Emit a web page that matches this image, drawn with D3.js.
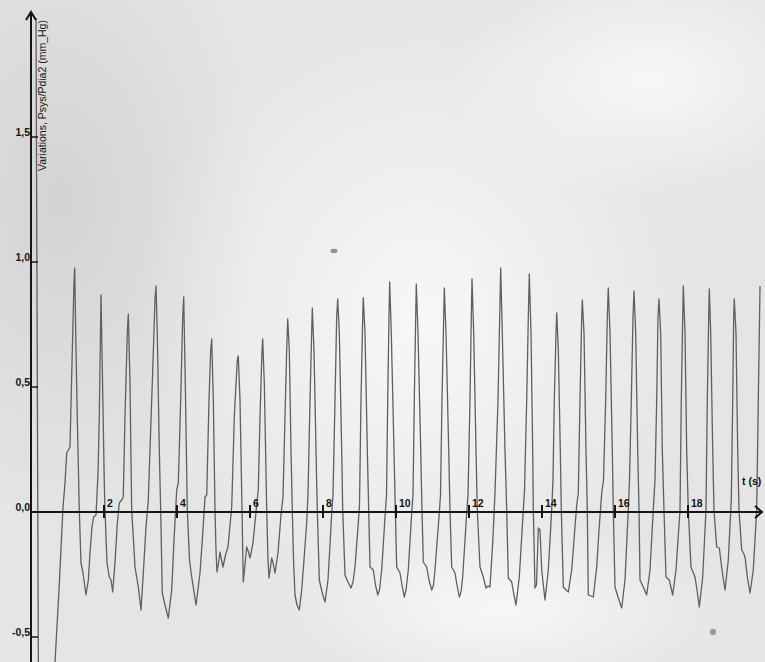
<!DOCTYPE html>
<html><head><meta charset="utf-8">
<script src="https://cdn.jsdelivr.net/npm/d3@7"></script>
<style>html,body{margin:0;padding:0;background:#e6e6e6;}svg{display:block;}</style>
</head><body>
<svg id="c" width="765" height="662"></svg>
<script>
// time (s)
const times = [0.137,0.205,0.438,0.658,0.767,0.877,0.932,0.978,1.068,1.132,1.178,1.197,1.233,1.268,1.323,1.370,1.425,1.507,1.571,1.616,1.671,1.717,1.781,
1.836,1.871,1.910,1.918,1.953,2.008,2.027,2.082,2.145,2.192,2.238,2.301,2.365,2.419,2.484,2.528,
2.575,2.638,2.666,2.712,2.759,2.849,2.940,3.014,3.077,3.151,3.214,
3.260,3.323,3.397,3.425,3.460,3.515,3.553,3.597,3.671,3.762,3.855,3.918,3.992,4.036,
4.101,4.156,4.184,4.227,4.282,4.342,4.403,4.521,4.630,4.712,4.767,4.814,
4.877,4.923,4.951,4.995,5.041,5.068,5.096,5.151,5.178,5.219,5.260,5.329,5.397,5.499,
5.570,5.652,5.679,5.726,5.781,5.816,5.910,5.959,6.000,6.082,6.178,
6.227,6.274,6.329,6.348,6.392,6.458,6.493,6.521,6.595,6.644,6.685,6.767,6.849,6.904,
6.959,7.005,7.033,7.077,7.123,7.159,7.192,7.233,7.288,7.351,7.416,7.479,7.553,7.589,
7.644,7.690,7.707,7.753,7.827,7.844,7.899,7.973,8.055,8.137,8.192,8.238,
8.274,8.329,8.375,8.403,8.447,8.512,8.540,8.603,8.658,8.767,8.822,8.877,8.967,9.000,
9.041,9.088,9.104,9.151,9.214,9.252,9.288,9.378,9.438,9.499,9.548,9.608,9.699,9.740,
9.773,9.808,9.827,9.871,9.945,9.981,10.019,10.110,10.164,10.227,10.274,10.337,10.430,10.466,
10.501,10.540,10.556,10.603,10.677,10.712,10.748,10.841,10.904,10.978,11.027,11.068,11.186,11.219,
11.260,11.307,11.323,11.370,11.444,11.479,11.526,11.616,11.671,11.734,11.781,11.827,11.937,11.973,
12.027,12.063,12.082,12.129,12.192,12.227,12.301,12.392,12.466,12.521,12.575,12.649,12.712,
12.795,12.841,12.868,12.912,12.986,13.033,13.077,13.170,13.233,13.288,13.378,13.488,
13.521,13.581,13.625,13.652,13.699,13.745,13.762,13.808,13.849,13.899,13.945,13.992,14.082,14.173,14.266,
14.301,14.337,14.384,14.403,14.447,14.501,14.529,14.584,14.658,14.721,14.814,14.904,14.951,14.995,
15.041,15.088,15.104,15.151,15.205,15.241,15.268,15.342,15.405,15.499,15.562,15.636,
15.685,15.745,15.789,15.816,15.863,15.926,15.953,16.000,16.090,16.184,16.274,16.364,
16.397,16.447,16.493,16.521,16.567,16.622,16.658,16.685,16.775,16.868,16.959,17.049,
17.096,17.142,17.178,17.205,17.252,17.296,17.342,17.397,17.488,17.581,17.671,17.781,
17.816,17.855,17.871,17.918,17.964,18.008,18.082,18.192,18.247,18.310,18.403,18.493,
18.529,18.567,18.584,18.622,18.677,18.712,18.786,18.858,18.932,19.014,19.104,19.186,
19.225,19.252,19.268,19.315,19.362,19.397,19.471,19.521,19.562,19.630,19.699,19.789,19.882,19.926,19.973];
// Psys/Pdia2 variation (mm_Hg)
const values = [1.976,-0.752,-0.832,-0.600,-0.312,0.020,0.116,0.236,0.260,0.648,0.916,0.976,0.648,0.380,0.008,-0.204,-0.244,-0.332,-0.272,-0.164,-0.060,-0.020,-0.012,
0.156,0.380,0.780,0.868,0.580,0.116,0.008,-0.204,-0.260,-0.272,-0.320,-0.204,-0.044,0.036,0.048,0.060,
0.380,0.716,0.792,0.516,0.008,-0.220,-0.300,-0.392,-0.244,-0.060,0.048,
0.248,0.516,0.848,0.904,0.716,0.248,0.008,-0.324,-0.372,-0.424,-0.312,-0.112,0.088,0.116,
0.448,0.780,0.860,0.516,0.008,-0.192,-0.260,-0.372,-0.244,-0.072,0.060,0.068,
0.448,0.648,0.692,0.448,0.008,-0.152,-0.240,-0.192,-0.160,-0.192,-0.220,-0.172,-0.140,0.020,
0.380,0.608,0.624,0.448,0.008,-0.280,-0.140,-0.160,-0.184,-0.124,0.020,
0.088,0.380,0.648,0.692,0.516,0.008,-0.192,-0.264,-0.184,-0.212,-0.244,-0.164,-0.012,0.060,
0.380,0.648,0.772,0.648,0.248,0.008,-0.192,-0.332,-0.372,-0.392,-0.312,-0.192,-0.044,0.068,
0.448,0.716,0.816,0.648,0.116,0.008,-0.272,-0.320,-0.360,-0.272,-0.132,-0.004,
0.068,0.448,0.780,0.852,0.716,0.248,0.008,-0.252,-0.272,-0.304,-0.280,-0.220,-0.044,0.028,
0.448,0.780,0.857,0.716,0.248,0.008,-0.220,-0.232,-0.292,-0.332,-0.312,-0.232,-0.020,0.068,
0.448,0.780,0.920,0.716,0.248,0.008,-0.220,-0.244,-0.292,-0.340,-0.312,-0.232,-0.004,0.068,
0.448,0.780,0.912,0.716,0.248,0.008,-0.200,-0.220,-0.272,-0.312,-0.292,-0.232,-0.004,0.068,
0.448,0.780,0.896,0.716,0.248,0.008,-0.220,-0.244,-0.292,-0.340,-0.320,-0.260,-0.004,0.068,
0.448,0.780,0.932,0.716,0.248,0.008,-0.220,-0.260,-0.304,-0.296,-0.300,-0.124,0.076,
0.448,0.780,0.976,0.716,0.248,0.008,-0.264,-0.280,-0.332,-0.372,-0.260,0.008,
0.088,0.448,0.780,0.952,0.716,0.248,0.008,-0.304,-0.292,-0.064,-0.072,-0.232,-0.352,-0.232,0.008,
0.128,0.448,0.716,0.796,0.648,0.248,0.008,-0.300,-0.312,-0.320,-0.232,-0.060,0.028,0.076,
0.448,0.780,0.848,0.716,0.248,0.008,-0.332,-0.336,-0.340,-0.220,-0.072,0.076,
0.128,0.448,0.780,0.896,0.716,0.248,0.008,-0.300,-0.344,-0.384,-0.272,0.008,
0.128,0.448,0.780,0.884,0.716,0.248,0.008,-0.272,-0.300,-0.332,-0.232,0.008,
0.128,0.448,0.780,0.852,0.716,0.248,0.008,-0.260,-0.272,-0.332,-0.232,0.008,
0.448,0.780,0.904,0.716,0.248,0.008,-0.220,-0.260,-0.312,-0.380,-0.260,0.008,
0.448,0.780,0.892,0.716,0.248,0.008,-0.140,-0.144,-0.232,-0.312,-0.192,0.048,
0.448,0.780,0.852,0.716,0.248,0.008,-0.152,-0.164,-0.180,-0.264,-0.324,-0.232,0.008,0.448,0.904];

const xTicks = [2,4,6,8,10,12,14,16,18];
const yTicks = [-0.5,0,0.5,1.0,1.5];
const yTickLabels = ["-0,5","0,0","0,5","1,0","1,5"];
const yTitle = "Variations, Psys/Pdia2 (mm_Hg)";
const xTitle = "t (s)";

const svg = d3.select("#c");
const W = 765, H = 662;

// scanned-paper background
const defs = svg.append("defs");
function rg(id, color, op){
  const g = defs.append("radialGradient").attr("id",id).attr("cx","0.5").attr("cy","0.5").attr("r","0.5");
  g.append("stop").attr("offset","0").attr("stop-color",color).attr("stop-opacity",op);
  g.append("stop").attr("offset","1").attr("stop-color",color).attr("stop-opacity",0);
}
rg("lt","#f8f8f8",0.95);
rg("dk","#cfcfcf",0.8);
svg.append("rect").attr("width",W).attr("height",H).attr("fill","#e5e5e5");
svg.append("ellipse").attr("cx",60).attr("cy",200).attr("rx",200).attr("ry",330).attr("fill","url(#dk)");
svg.append("ellipse").attr("cx",420).attr("cy",320).attr("rx",280).attr("ry",320).attr("fill","url(#lt)");
svg.append("ellipse").attr("cx",650).attr("cy",80).attr("rx",200).attr("ry",120).attr("fill","url(#lt)");
svg.append("ellipse").attr("cx",500).attr("cy",610).attr("rx",230).attr("ry",90).attr("fill","url(#lt)");
// dust specks on the scan
svg.append("ellipse").attr("cx",334).attr("cy",251).attr("rx",3.5).attr("ry",2.2).attr("fill","#7a7a7a").attr("opacity",0.8);
svg.append("ellipse").attr("cx",713).attr("cy",632).attr("rx",3).attr("ry",3.2).attr("fill","#808080").attr("opacity",0.75);

const x = d3.scaleLinear().domain([0,20]).range([31,761]);
const y = d3.scaleLinear().domain([-0.5,1.5]).range([637,137]);

const ink = "#141414";
const font = "'Liberation Sans', Arial, sans-serif";

// trace
const pts = times.map((t,i)=>[t, values[i]]);
svg.append("path").datum(pts)
  .attr("d", d3.line().x(d=>x(d[0])).y(d=>y(d[1])))
  .attr("fill","none").attr("stroke","#5f5f5f").attr("stroke-width",1.3)
  .attr("stroke-linejoin","round");

// y axis
svg.append("line").attr("x1",x(0)).attr("x2",x(0)).attr("y1",H).attr("y2",13)
  .attr("stroke",ink).attr("stroke-width",2);
svg.append("path").attr("d",`M${x(0)-5},20 L${x(0)},12 L${x(0)+5},20`)
  .attr("fill","none").attr("stroke",ink).attr("stroke-width",2);
svg.selectAll(".yt").data(yTicks).join("line")
  .attr("x1",x(0)).attr("x2",x(0)+7).attr("y1",d=>y(d)).attr("y2",d=>y(d))
  .attr("stroke",ink).attr("stroke-width",1.5);
svg.selectAll(".yl").data(yTicks).join("text")
  .attr("x",x(0)-1).attr("y",d=>y(d)-1).attr("text-anchor","end")
  .attr("font-family",font).attr("font-size",10.5).attr("font-weight","bold").attr("fill",ink)
  .text((d,i)=>yTickLabels[i]);
svg.append("text").attr("transform",`translate(46,171) rotate(-90)`)
  .attr("font-family",font).attr("font-size",10.5).attr("fill",ink)
  .text(yTitle);

// x axis
svg.append("line").attr("x1",x(0)).attr("x2",762).attr("y1",y(0)).attr("y2",y(0))
  .attr("stroke",ink).attr("stroke-width",2);
svg.append("path").attr("d",`M755,${y(0)-6} L762,${y(0)} L755,${y(0)+6}`)
  .attr("fill","none").attr("stroke",ink).attr("stroke-width",2);
svg.selectAll(".xt").data(xTicks).join("line")
  .attr("x1",d=>x(d)).attr("x2",d=>x(d)).attr("y1",y(0)-7).attr("y2",y(0)+6)
  .attr("stroke",ink).attr("stroke-width",2);
svg.selectAll(".xl").data(xTicks).join("text")
  .attr("x",d=>x(d)+3).attr("y",y(0)-5)
  .attr("font-family",font).attr("font-size",10.5).attr("font-weight","bold").attr("fill",ink)
  .text(d=>d);
svg.append("text").attr("x",742).attr("y",485)
  .attr("font-family",font).attr("font-size",10.5).attr("font-weight","bold").attr("fill",ink)
  .text(xTitle);
</script>
</body></html>
